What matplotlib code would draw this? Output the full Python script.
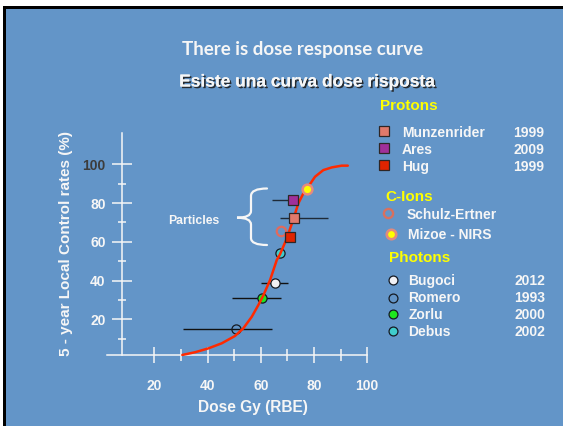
import matplotlib
matplotlib.use('Agg')
import matplotlib.pyplot as plt
from matplotlib.transforms import Affine2D
from matplotlib.patches import Rectangle, PathPatch
from matplotlib.path import Path
from matplotlib.lines import Line2D
import matplotlib.patheffects as pe

W, H = 563, 426
BG = '#6395C8'
WHITE = '#F6F6F6'
YELLOW = '#FFFF00'

# ---------------- data ----------------
proton_names = ['Munzenrider', 'Ares', 'Hug']
proton_years = ['1999', '2009', '1999']
proton_dose = [72.3, 72.2, 71.0]
proton_ctrl = [72.4, 81.5, 62.6]
proton_err_lo = [5.1, 8.1, 0.0]
proton_err_hi = [12.9, 0.0, 0.0]
proton_colors = ['#E07A6C', '#A0309A', '#E02400']

cion_names = ['Schulz-Ertner', 'Mizoe - NIRS']
cion_dose = [67.5, 77.5]
cion_ctrl = [65.7, 87.1]
cion_faces = ['none', '#FFFF00']

photon_names = ['Bugoci', 'Romero', 'Zorlu', 'Debus']
photon_years = ['2012', '1993', '2000', '2002']
photon_dose = [65.3, 50.6, 60.6, 67.2]
photon_ctrl = [38.6, 15.0, 31.1, 54.2]
photon_err_lo = [5.2, 19.7, 11.5, 0.0]
photon_err_hi = [5.0, 13.5, 6.9, 0.0]
photon_colors = ['#F0F0F4', 'none', '#1EE61E', '#40CCCC']

curve_dose = [30.5, 35.3, 40.3, 45.3, 50.3, 53.4, 56.6, 59.1, 61.0, 63.5,
              66.0, 67.2, 69.7, 72.2, 74.1, 76.0, 77.9, 80.4, 83.5, 86.7,
              90.4, 92.7]
curve_ctrl = [1.6, 3.0, 5.0, 7.6, 11.4, 15.3, 21.3, 27.4, 32.5, 40.3,
              50.6, 53.5, 61.5, 71.5, 79.8, 85.0, 88.6, 93.6, 97.0, 98.4,
              99.3, 99.3]

x_ticks = [20, 40, 60, 80, 100]
x_minor = [30, 50, 70, 90]
y_ticks = [20, 40, 60, 80, 100]
y_minor = [10, 30, 50, 70, 90]

# ---------------- figure ----------------
fig = plt.figure(figsize=(W / 100, H / 100), dpi=100)
fig.patch.set_facecolor('white')
px = Affine2D().scale(1 / W, -1 / H).translate(0, 1) + fig.transFigure

fig.add_artist(Rectangle((2.7, 5.7), W, H, transform=px, facecolor='black',
                         edgecolor='none', zorder=-20))
fig.add_artist(Rectangle((5.7, 9.0), W, H, transform=px, facecolor=BG,
                         edgecolor='none', zorder=-19))

X0PX, XS = 101.2, 2.66
Y0PX, YS = 358.05, 1.9375
ax = fig.add_axes([0, 0, 1, 1])
ax.patch.set_visible(False)
ax.set_xlim(-X0PX / XS, (W - X0PX) / XS)
ax.set_ylim((Y0PX - H) / YS, Y0PX / YS)

for s in ['top', 'right']:
    ax.spines[s].set_visible(False)
ax.spines['left'].set_position(('data', 7.7))
ax.spines['bottom'].set_position(('data', 1.55))
ax.spines['left'].set_bounds(1.55, 116.1)
ax.spines['bottom'].set_bounds(2.2, 100)
for s in ['left', 'bottom']:
    ax.spines[s].set_color(WHITE)
    ax.spines[s].set_linewidth(1.1)

ax.set_xticks(x_ticks)
ax.set_xticks(x_minor, minor=True)
ax.set_yticks(y_ticks)
ax.set_yticks(y_minor, minor=True)
ax.set_xticklabels([str(v) for v in x_ticks], fontsize=10, fontweight='bold',
                   color=WHITE, family='Liberation Sans')
ax.set_yticklabels([str(v) for v in y_ticks], fontsize=10, fontweight='bold',
                   color=WHITE, family='Liberation Sans')
ax.get_yticklabels()[-1].set_color('#3C3C3C')
ax.tick_params(axis='x', which='major', direction='inout', length=12.2,
               width=1.1, color=WHITE, pad=11.5)
ax.tick_params(axis='x', which='minor', direction='inout', length=8.6,
               width=1.1, color=WHITE)
ax.tick_params(axis='y', which='major', direction='inout', length=15.1,
               width=1.1, color=WHITE, pad=4.0)
ax.tick_params(axis='y', which='minor', direction='inout', length=5.8,
               width=1.1, color=WHITE)

# error bars
ax.errorbar(proton_dose, proton_ctrl, xerr=[proton_err_lo, proton_err_hi],
            fmt='none', ecolor='#1E2A38', elinewidth=1.0, capsize=0, zorder=2)
ax.errorbar(photon_dose, photon_ctrl, xerr=[photon_err_lo, photon_err_hi],
            fmt='none', ecolor='#111111', elinewidth=1.0, capsize=0, zorder=2)

# photon circles
for xd, yd, c in zip(photon_dose, photon_ctrl, photon_colors):
    ax.plot([xd], [yd], 'o', ms=6.6, mfc=c, mec='#151A22', mew=0.9, zorder=3)
# C-ion circles
ax.plot([cion_dose[0]], [cion_ctrl[0]], 'o', ms=6.8, mfc='none', mec='#E26A5C',
        mew=1.6, zorder=3)
ax.plot([cion_dose[1]], [cion_ctrl[1]], 'o', ms=7.0, mfc=cion_faces[1],
        mec='#E68A7E', mew=1.8, zorder=5)

# curve
ax.plot(curve_dose, curve_ctrl, color='#FF2A00', lw=1.8, zorder=4,
        solid_capstyle='round', solid_joinstyle='round')

# proton squares
for xd, yd, c in zip(proton_dose, proton_ctrl, proton_colors):
    ax.plot([xd], [yd], 's', ms=6.8, mfc=c, mec='#2E2626', mew=0.9, zorder=5)

# axis labels
fig.text(66, 244, '5 - year Local Control rates (%)', transform=px,
         rotation=90, ha='center', va='center', fontsize=11, fontweight='bold',
         color=WHITE, family='Liberation Sans')
fig.text(253, 411.7, 'Dose Gy (RBE)', transform=px, ha='center', va='baseline',
         fontsize=11.2, fontweight='bold', color=WHITE, family='Liberation Sans')

# titles
fig.text(303, 55, 'There is dose response curve', transform=px, ha='center',
         va='baseline', fontsize=13.5, fontweight='bold', color=WHITE,
         family='Lato')
fig.text(307.5, 86.5, 'Esiste una curva dose risposta', transform=px,
         ha='center', va='baseline', fontsize=12.5, fontweight='bold',
         color=WHITE, family='Liberation Sans',
         path_effects=[pe.withSimplePatchShadow(offset=(1.2, -1.2),
                                                shadow_rgbFace='#202020',
                                                alpha=0.9), pe.Normal()])

# particles brace
fig.text(193.5, 223.5, 'Particles', transform=px, ha='center', va='baseline',
         fontsize=8.8, fontweight='bold', color=WHITE, family='Liberation Sans')
brace = Path([(267, 188.5), (251, 188.5), (251, 196), (251, 211),
              (251, 217.7), (237, 217.7), (251, 217.7), (251, 224.5),
              (251, 238), (251, 245), (267, 245)],
             [Path.MOVETO, Path.CURVE3, Path.CURVE3, Path.LINETO,
              Path.CURVE3, Path.CURVE3, Path.CURVE3, Path.CURVE3,
              Path.LINETO, Path.CURVE3, Path.CURVE3])
fig.add_artist(PathPatch(brace, transform=px, facecolor='none',
                         edgecolor=WHITE, lw=1.6, capstyle='round'))

# legend-like panel
def ftxt(x, y, s, color=WHITE, size=10, ha='left'):
    fig.text(x, y, s, transform=px, ha=ha, va='baseline', fontsize=size,
             fontweight='bold', color=color, family='Liberation Sans')

def fmark(x, y, marker, ms, mfc, mec, mew):
    fig.add_artist(Line2D([x], [y], transform=px, marker=marker, ms=ms,
                          mfc=mfc, mec=mec, mew=mew, linestyle='none'))

ftxt(380, 110, 'Protons', YELLOW, 11)
p_base = [136.7, 154.0, 171.0]
for name, yr, c, b in zip(proton_names, proton_years, proton_colors, p_base):
    fmark(383.5, b - 6, 's', 6.6, c, '#2E2626', 0.9)
    ftxt(401.7, b, name)
    ftxt(544.5, b, yr, ha='right')

ftxt(385, 201, 'C-Ions', YELLOW, 11)
fmark(388.3, 213.3, 'o', 6.6, 'none', '#D8705E', 1.7)
ftxt(406.7, 218.7, cion_names[0])
fmark(390.7, 234, 'o', 6.8, cion_faces[1], '#E08A7E', 1.9)
ftxt(408.3, 239.3, cion_names[1])

ftxt(389, 261.7, 'Photons', YELLOW, 11)
ph_base = [285.0, 302.3, 319.0, 335.7]
for name, yr, c, b in zip(photon_names, photon_years, photon_colors, ph_base):
    fmark(392.7, b - 4.8, 'o', 6.4, c, '#151A22', 0.9)
    ftxt(408.3, b, name)
    ftxt(545, b, yr, ha='right')

fig.savefig('out.png', dpi=100, facecolor=fig.get_facecolor())
